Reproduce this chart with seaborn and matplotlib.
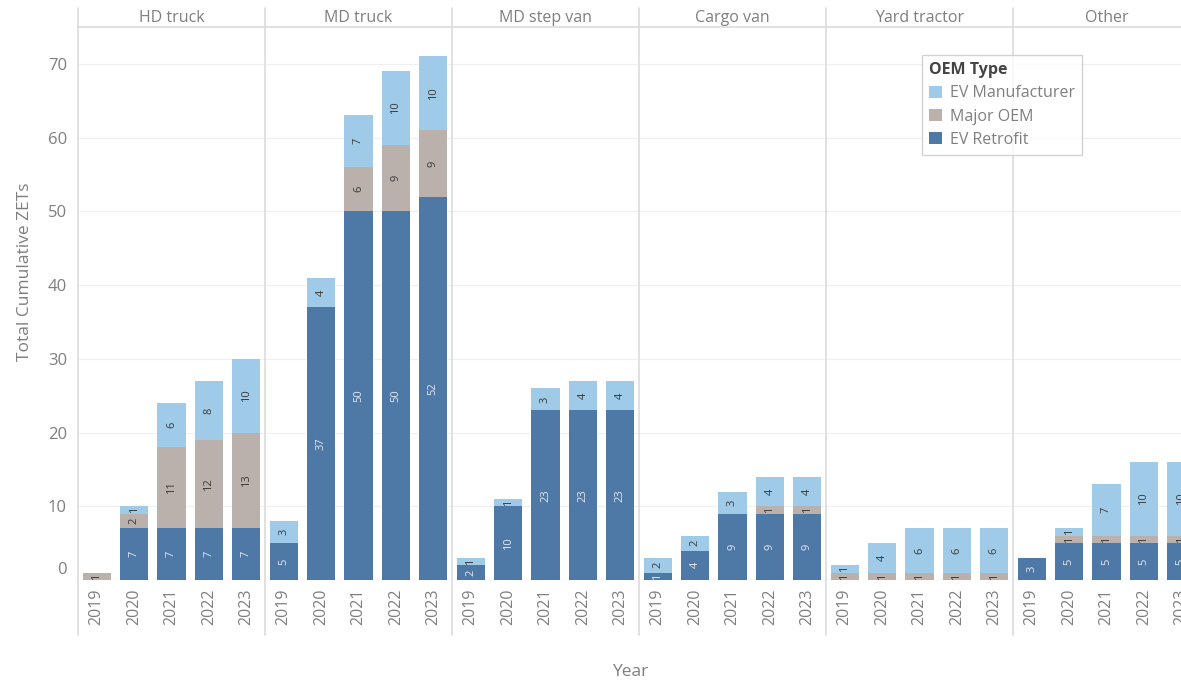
import matplotlib
matplotlib.use("Agg")
import matplotlib.pyplot as plt
from matplotlib.lines import Line2D
from matplotlib.patches import Patch
from matplotlib.transforms import ScaledTranslation
import numpy as np
import pandas as pd
import seaborn as sns

# Vehicle categories (panels) and years (bars within each panel)
categories = ["HD truck", "MD truck", "MD step van", "Cargo van", "Yard tractor", "Other"]
years = ["2019", "2020", "2021", "2022", "2023"]

# Cumulative ZETs per category, five years each (2019..2023)
ev_retrofit = [
    0, 7, 7, 7, 7,        # HD truck
    5, 37, 50, 50, 52,    # MD truck
    2, 10, 23, 23, 23,    # MD step van
    1, 4, 9, 9, 9,        # Cargo van
    0, 0, 0, 0, 0,        # Yard tractor
    3, 5, 5, 5, 5,        # Other
]
major_oem = [
    1, 2, 11, 12, 13,
    0, 0, 6, 9, 9,
    0, 0, 0, 0, 0,
    0, 0, 0, 1, 1,
    1, 1, 1, 1, 1,
    0, 1, 1, 1, 1,
]
ev_manufacturer = [
    0, 1, 6, 8, 10,
    3, 4, 7, 10, 10,
    1, 1, 3, 4, 4,
    2, 2, 3, 4, 4,
    1, 4, 6, 6, 6,
    0, 1, 7, 10, 10,
]

series_names = ["EV Manufacturer", "Major OEM", "EV Retrofit"]
series_colors = {"EV Manufacturer": "#a0cbe8", "Major OEM": "#bab0ac", "EV Retrofit": "#4e79a7"}
y_ticks = [0, 10, 20, 30, 40, 50, 60, 70]

df = pd.DataFrame({
    "Category": np.repeat(categories, len(years)),
    "Year": years * len(categories),
    "EV Retrofit": ev_retrofit,
    "Major OEM": major_oem,
    "EV Manufacturer": ev_manufacturer,
})
df["cum_retrofit"] = df["EV Retrofit"]
df["cum_major"] = df["cum_retrofit"] + df["Major OEM"]
df["cum_total"] = df["cum_major"] + df["EV Manufacturer"]

sns.set_theme(style="white")
plt.rcParams["font.family"] = ["Open Sans", "DejaVu Sans"]

W, H = 1181, 683
fig = plt.figure(figsize=(W / 100, H / 100), dpi=100)

text_grey = "#7f7f7f"
line_grey = "#dcdcdc"

left_px, top_px, bottom_px, panel_w = 78, 27, 580, 187
ax_h = (bottom_px - top_px) / H

axes = []
for i, cat in enumerate(categories):
    x0 = (left_px + i * panel_w) / W
    ax = fig.add_axes([x0, 1 - bottom_px / H, panel_w / W, ax_h])
    sub = df[df["Category"] == cat]
    # Stacked bars drawn as overlapping cumulative layers, tallest first
    for col, name in [("cum_total", "EV Manufacturer"), ("cum_major", "Major OEM"),
                      ("cum_retrofit", "EV Retrofit")]:
        sns.barplot(data=sub, x="Year", y=col, order=years, color=series_colors[name],
                    saturation=1, width=0.75, errorbar=None, ax=ax, zorder=3,
                    linewidth=0, edgecolor="none")
    # Segment value labels
    for j, (_, row) in enumerate(sub.iterrows()):
        segs = [(0, row["EV Retrofit"], "#e3e9f1"),
                (row["cum_retrofit"], row["Major OEM"], "#3a3a3a"),
                (row["cum_major"], row["EV Manufacturer"], "#3a3a3a")]
        for base, val, tc in segs:
            if val > 0:
                ax.text(j, base + val / 2, f"{val}", rotation=90, ha="center", va="center",
                        fontsize=8, color=tc, zorder=5)
    ax.set_xlim(-0.5, 4.5)
    ax.set_ylim(0, 75)
    ax.set_yticks(y_ticks)
    ax.yaxis.grid(True, color="#f0f0f0", linewidth=0.9, zorder=0)
    ax.set_axisbelow(True)
    ax.set_xlabel("")
    ax.set_ylabel("")
    for side in ["left", "right", "bottom"]:
        ax.spines[side].set_visible(False)
    ax.spines["top"].set_color(line_grey)
    ax.spines["top"].set_linewidth(1.2)
    ax.axhline(0, color="#e4e4e4", linewidth=1.0, zorder=2)
    ax.tick_params(axis="x", labelrotation=90, length=0, labelsize=11.5,
                   labelcolor=text_grey, pad=6)
    if i == 0:
        ax.tick_params(axis="y", length=3, color=line_grey, labelsize=12,
                       labelcolor=text_grey, pad=5)
        for t in ax.yaxis.get_major_ticks():
            if t.get_loc() == 0:
                t.label1.set_transform(t.label1.get_transform()
                                       + ScaledTranslation(0, 9 / 72, fig.dpi_scale_trans))
    else:
        ax.tick_params(axis="y", left=False, labelleft=False)
    ax.text(0.5, 1.0 + 9 / (bottom_px - top_px), cat, transform=ax.transAxes,
            ha="center", va="center", fontsize=11.5, color=text_grey)
    axes.append(ax)

# Panel dividers spanning header, plot and year labels
for i in range(len(categories)):
    xf = (left_px + i * panel_w) / W
    fig.add_artist(Line2D([xf, xf], [1 - 8 / H, 1 - 635 / H], color=line_grey,
                          linewidth=1.2, transform=fig.transFigure))

fig.text(25 / W, 1 - 272 / H, "Total Cumulative ZETs", rotation=90, ha="center",
         va="center", fontsize=12.5, color=text_grey)
fig.text(630 / W, 1 - 672 / H, "Year", ha="center", va="center", fontsize=12.5,
         color=text_grey)

handles = [Patch(facecolor=series_colors[n], edgecolor="none", label=n) for n in series_names]
leg = fig.legend(handles=handles, title="OEM Type", loc="upper left",
                 bbox_to_anchor=(922 / W, 1 - 55 / H), borderaxespad=0, frameon=True,
                 fontsize=11.5, title_fontsize=11.5, handlelength=0.8, handleheight=0.8,
                 handletextpad=0.5, borderpad=0.45, labelspacing=0.45,
                 alignment="left", fancybox=False)
leg.get_frame().set_edgecolor("#c8c8c8")
leg.get_frame().set_linewidth(1.0)
leg.get_title().set_fontweight("bold")
leg.get_title().set_color("#444444")
for t in leg.get_texts():
    t.set_color(text_grey)

fig.savefig("out.png", dpi=100, facecolor="white")
